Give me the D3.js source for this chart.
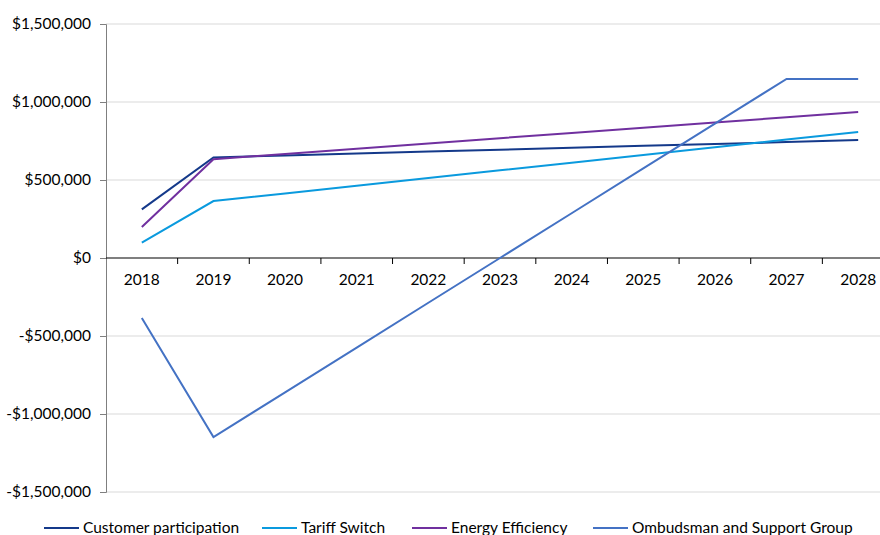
<!DOCTYPE html>
<html>
<head>
<meta charset="utf-8">
<script src="https://cdn.jsdelivr.net/npm/d3@7"></script>
<style>
  body { margin: 0; background: #fff; }
  svg text { font-family: Lato, "Open Sans", sans-serif; fill: #000; }
</style>
</head>
<body>
<div id="chart"></div>
<script>
// chart data
var years = ["2018", "2019", "2020", "2021", "2022", "2023", "2024", "2025", "2026", "2027", "2028"];
var customerParticipation = [312000, 645000, 657000, 670000, 682000, 694000, 706000, 719000, 731000, 743000, 756000];
var tariffSwitch = [98000, 365000, 414000, 463000, 513000, 562000, 611000, 660000, 710000, 759000, 808000];
var energyEfficiency = [199000, 633000, 667000, 700000, 734000, 768000, 801000, 835000, 869000, 902000, 936000];
var ombudsman = [-385000, -1148000, -861000, -574000, -287000, 0, 287000, 574000, 861000, 1148000, 1148000];
var seriesNames = ["Customer participation", "Tariff Switch", "Energy Efficiency", "Ombudsman and Support Group"];
var yTicks = [-1500000, -1000000, -500000, 0, 500000, 1000000, 1500000];

var seriesColors = ["#14398a", "#0a9ade", "#70309f", "#4472c4"];
var series = [customerParticipation, tariffSwitch, energyEfficiency, ombudsman].map((values, i) => ({
	name: seriesNames[i],
	color: seriesColors[i],
	values: values
}));

var width = 880, height = 535;
var plot = { left: 106, right: 894, top: 24, bottom: 492 };
var fontSize = "15.5px";

var svg = d3.select("#chart")
	.append("svg")
	.attr("width", width)
	.attr("height", height);

var x = d3.scaleBand()
	.domain(years)
	.range([plot.left, plot.right]);

var y = d3.scaleLinear()
	.domain([-1500000, 1500000])
	.range([plot.bottom, plot.top]);

var money = (v) => (v < 0 ? "-$" : "$") + d3.format(",")(Math.abs(v));

// gridlines
svg.append("g")
	.selectAll("line")
	.data(yTicks.filter(d => d !== 0))
	.join("line")
	.attr("x1", plot.left)
	.attr("x2", plot.right)
	.attr("y1", d => y(d))
	.attr("y2", d => y(d))
	.attr("stroke", "#d9d9d9")
	.attr("stroke-width", 1);

// y axis
var yAxis = svg.append("g")
	.attr("transform", "translate(" + plot.left + ",0)")
	.call(d3.axisLeft(y).tickValues(yTicks).tickFormat(money).tickSize(6).tickPadding(9));
yAxis.select(".domain").attr("stroke", "#7f7f7f");
yAxis.selectAll(".tick line").attr("stroke", "#7f7f7f");
yAxis.selectAll("text").style("font-size", fontSize);

// x axis at zero, ticks between categories
var xAxis = svg.append("g")
	.attr("transform", "translate(0," + y(0) + ")");
xAxis.append("line")
	.attr("x1", plot.left)
	.attr("x2", plot.right)
	.attr("stroke", "#000")
	.attr("stroke-width", 1.2);
xAxis.selectAll(".tk")
	.data(years.slice(1))
	.join("line")
	.attr("class", "tk")
	.attr("x1", d => x(d))
	.attr("x2", d => x(d))
	.attr("y1", 0)
	.attr("y2", 6)
	.attr("stroke", "#000");
xAxis.selectAll("text")
	.data(years)
	.join("text")
	.attr("x", d => x(d) + x.bandwidth() / 2)
	.attr("y", 27)
	.attr("text-anchor", "middle")
	.style("font-size", fontSize)
	.text(d => d);

// lines
var line = d3.line()
	.x((d, i) => x(years[i]) + x.bandwidth() / 2)
	.y(d => y(d));

svg.append("g")
	.selectAll("path")
	.data(series)
	.join("path")
	.attr("d", d => line(d.values))
	.attr("fill", "none")
	.attr("stroke", d => d.color)
	.attr("stroke-width", 2);

// legend
var legendX = [44, 262, 412, 593];
var legend = svg.append("g")
	.selectAll("g")
	.data(series)
	.join("g")
	.attr("transform", (d, i) => "translate(" + legendX[i] + ",528)");
legend.append("line")
	.attr("x1", 0)
	.attr("x2", 35)
	.attr("stroke", d => d.color)
	.attr("stroke-width", 2);
legend.append("text")
	.attr("x", 39)
	.attr("dy", "0.35em")
	.style("font-size", fontSize)
	.text(d => d.name);
</script>
</body>
</html>
